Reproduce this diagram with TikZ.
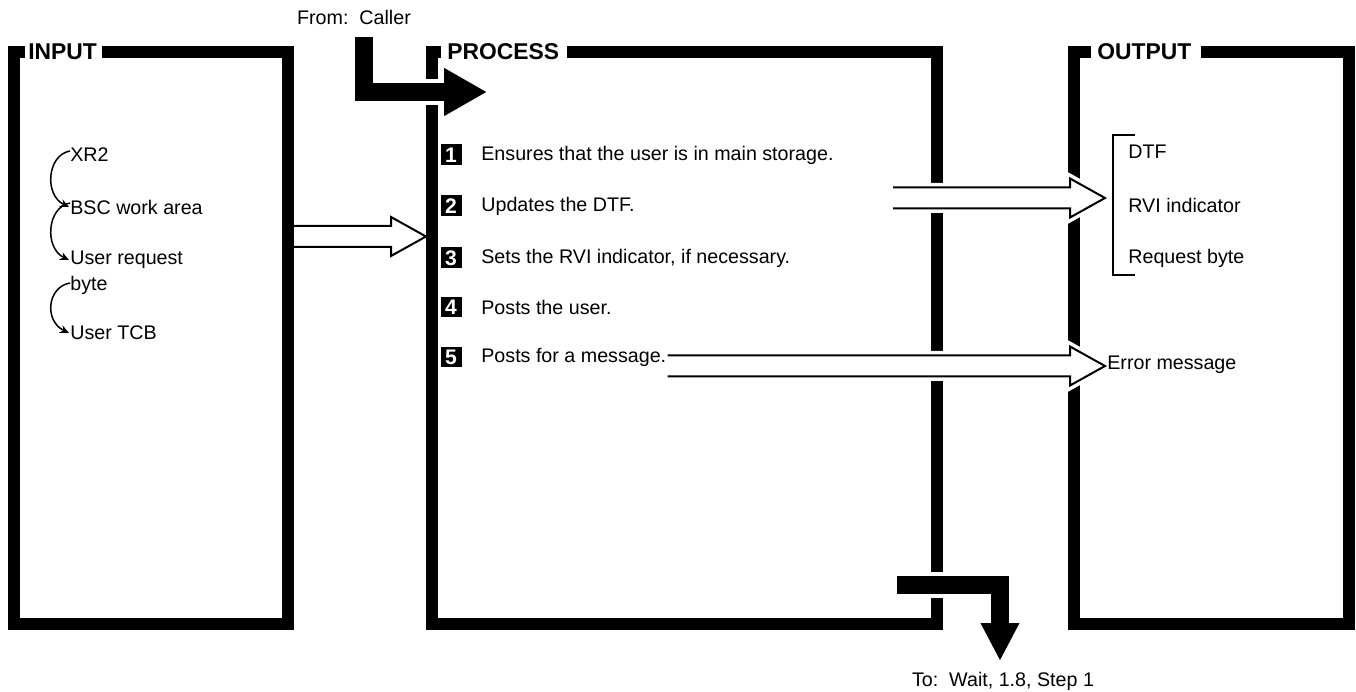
\documentclass[tikz,border=0pt]{standalone}
\usepackage{fontspec}
\setmainfont{Liberation Sans}
\usepackage{tikz}
\usetikzlibrary{calc,arrows.meta}

\tikzset{
  wall/.style={line width=0.24cm},
  title/.style={font=\fontsize{13}{15}\selectfont\bfseries, inner sep=0pt, anchor=west},
  item/.style={font=\fontsize{11.2}{15}\selectfont, inner sep=0pt, anchor=west, align=left},
  note/.style={font=\fontsize{11.2}{13}\selectfont, inner sep=0pt},
  stepnum/.style={fill=black, text=white, font=\fontsize{12}{13}\selectfont\bfseries,
    minimum size=0.42cm, inner sep=0pt},
  hollow/.style={draw=black, line width=0.04cm, fill=white},
  halo/.style={preaction={draw=white, line width=0.18cm}},
  fatarrow/.style={line width=0.37cm, preaction={draw=white, line width=0.53cm}},
  link/.style={line width=0.03cm, -{Stealth[length=0.18cm, width=0.16cm]}},
  bracket/.style={line width=0.04cm},
}

% hollow block arrow from #2 to tip #3 (same height)
\newcommand{\openarrow}[3][]{%
  \draw[hollow,#1] ($(#2)+(0,-10.5)$) -- ($(#3)+(-35,-10.5)$) -- ($(#3)+(-35,-19.5)$)
    -- (#3) -- ($(#3)+(-35,19.5)$) -- ($(#3)+(-35,10.5)$) -- ($(#2)+(0,10.5)$);}

\begin{document}
\begin{tikzpicture}[x=0.02cm, y=-0.02cm]
  \useasboundingbox (0,0) rectangle (1356,692);

  % Titles
  \node[title] (tin) at (28,52) {INPUT};
  \node[title] (tproc) at (447,52) {PROCESS};
  \node[title] (tout) at (1097,52) {OUTPUT};

  % Input box
  \draw[wall] ($(tin.east)+(5,0)$) -- (288,52) -- (288,624) -- (14,624) -- (14,52)
    -- ($(tin.west)+(-3,0)$);
  % Process box
  \draw[wall] ($(tproc.east)+(8,0)$) -- (937,52) -- (937,624) -- (432,624) -- (432,52)
    -- ($(tproc.west)+(-6,0)$);
  % Output box
  \draw[wall] ($(tout.east)+(9,0)$) -- (1349,52) -- (1349,624) -- (1074,624) -- (1074,52)
    -- ($(tout.west)+(-6,0)$);

  % Input items
  \node[item] (xr2) at (70,155) {XR2};
  \node[item] (bsc) at (70,207) {BSC work area};
  \node[item] (ureq) at (70,273) {User request\\byte};
  \node[item] (tcb) at (70,333) {User TCB};
  \draw[link] ($(xr2.west)+(0,-4)$) .. controls +(-23,4) and +(-25,-12) .. ($(bsc.west)+(-1,0)$);
  \draw[link] ($(bsc.west)+(0,-4)$) .. controls +(-23,4) and +(-25,-12) .. ($(ureq.west)+(-1,-13)$);
  \draw[link] ($(ureq.west)+(0,10)$) .. controls +(-23,4) and +(-25,-12) .. ($(tcb.west)+(-1,0)$);

  % Input to process
  \coordinate (inout) at (294,236.5);
  \coordinate (procin) at (426,236.5);
  \openarrow{inout}{procin}

  % Steps
  \node[stepnum] (n1) at (451,155) {1};
  \node[item] (s1) at (481,155) {Ensures that the user is in main storage.};
  \node[stepnum] (n2) at (451,206) {2};
  \node[item] (s2) at (481,206) {Updates the DTF.};
  \node[stepnum] (n3) at (451,258) {3};
  \node[item] (s3) at (481,258) {Sets the RVI indicator, if necessary.};
  \node[stepnum] (n4) at (451,307) {4};
  \node[item] (s4) at (481,307) {Posts the user.};
  \node[stepnum] (n5) at (451,357) {5};
  \node[item] (s5) at (481,357) {Posts for a message.};

  % Process to output
  \coordinate (s2out) at (893,198);
  \coordinate (dtftip) at (1105,198);
  \openarrow[halo]{s2out}{dtftip}
  \coordinate (errtip) at (1105,366);
  \coordinate (s5out) at ($(s5.east |- errtip)+(1,0)$);
  \openarrow[halo]{s5out}{errtip}

  % Output items
  \node[item] (dtf) at (1128,152) {DTF};
  \node[item] (rvi) at (1128,205) {RVI indicator};
  \node[item] (rqb) at (1128,258) {Request byte};
  \node[item] (err) at (1107,365) {Error message};
  \draw[bracket] ($(dtf.west)+(7,-17)$) -- (1113,135) -- (1113,275) -- ($(rqb.west)+(7,17)$);

  % From caller
  \node[note] (caller) at (354,17) {From:\ \ Caller};
  \coordinate (callin) at (364,37);
  \coordinate (calltip) at (487,92);
  \draw[fatarrow, -{Triangle[length=0.86cm, width=0.9cm]}] (callin) |- (calltip);

  % To wait
  \coordinate (exitin) at (897,585);
  \coordinate (exittip) at (1000,661);
  \draw[fatarrow, -{Triangle[length=0.76cm, width=0.72cm]}] (exitin) -| (exittip);
  \node[note] (towait) at (1003,681) {To:\ \ Wait, 1.8, Step 1};
\end{tikzpicture}
\end{document}
